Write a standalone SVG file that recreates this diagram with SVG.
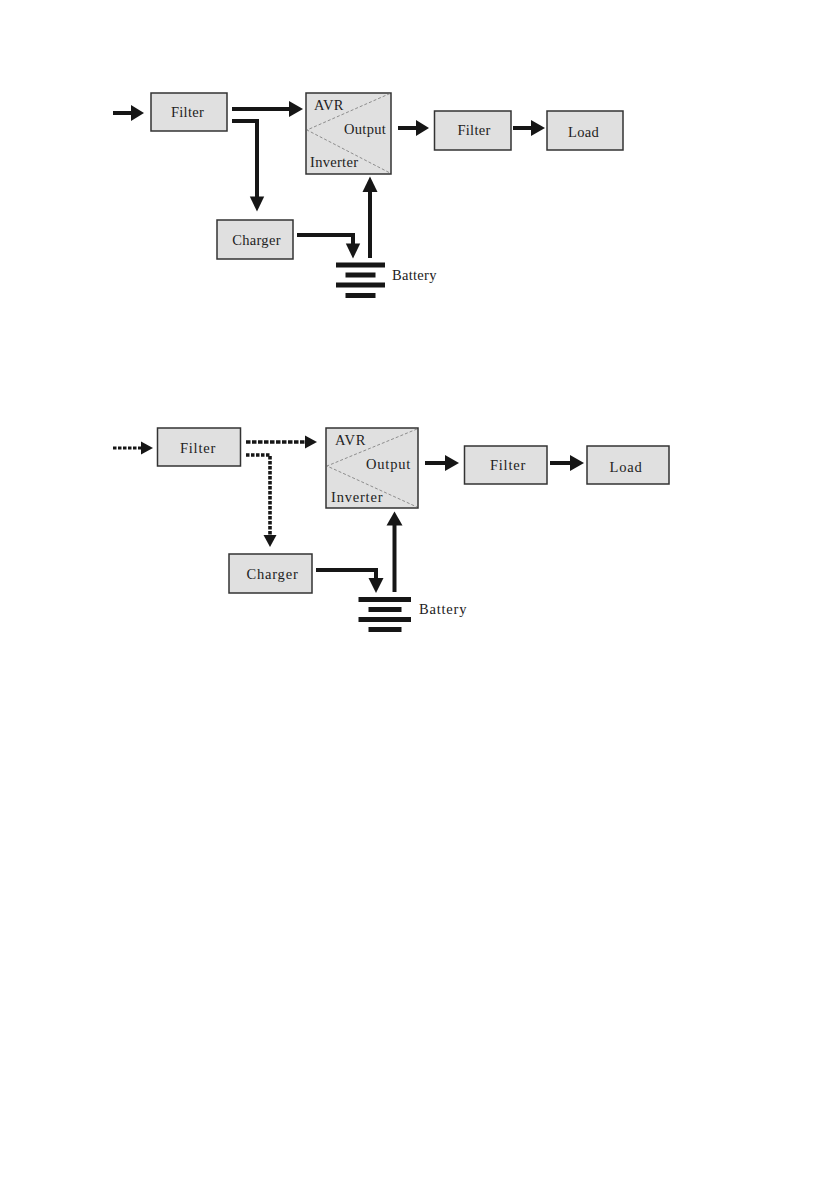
<svg xmlns="http://www.w3.org/2000/svg" width="840" height="1190" viewBox="0 0 840 1190">
<defs>
<style>
.box{fill:#e0e0e0;stroke:#333;stroke-width:1.5}
.diag{fill:none;stroke:#777;stroke-width:.8;stroke-dasharray:3 2}
.t{font-family:"Liberation Serif","Times New Roman",serif;fill:#222;font-size:14.500px;letter-spacing:.3px}
.s{letter-spacing:.8px}
.tc{text-anchor:middle}
.w{fill:none;stroke:#161616;stroke-width:4}
.d{stroke-dasharray:4.500 1.500;stroke-width:3.600}
.hd{fill:#161616}
.bar{fill:#161616}
</style>
</defs>
<rect width="840" height="1190" fill="#fff"/>
<g id="top-diagram">
<g id="connectors-top">
<path class="w" d="M113 113H134"/><path class="hd" d="M131 105L144 113L131 121Z"/>
<path class="w" d="M232 109H291"/><path class="hd" d="M289 101L303 109L289 117Z"/>
<path class="w" d="M232 121H257V198"/><path class="hd" d="M249.800 196.500H264.200L257 211.500Z"/>
<path class="w" d="M297 235H353V246"/><path class="hd" d="M345.800 243.500H360.200L353 258.500Z"/>
<path class="w" d="M370 258V190"/><path class="hd" d="M362.500 192H377.500L370 176.500Z"/>
<path class="w" d="M398 128H418"/><path class="hd" d="M416 120L429 128L416 136Z"/>
<path class="w" d="M513 128H534"/><path class="hd" d="M531 120L545 128L531 136Z"/>
</g>
<g id="filter-in-top"><rect class="box" x="151" y="93" width="76" height="38"/><text class="t tc" x="187.500" y="117">Filter</text></g>
<g id="switch-top"><rect class="box" x="306" y="93" width="85" height="81"/><path class="diag" d="M390 93.500L307 130L390 173"/><text class="t" x="314" y="110">AVR</text><text class="t" x="344" y="134">Output</text><text class="t" x="310" y="167">Inverter</text></g>
<g id="charger-top"><rect class="box" x="217" y="220" width="76" height="39"/><text class="t tc" x="256.500" y="245">Charger</text></g>
<g id="filter-out-top"><rect class="box" x="434.500" y="111" width="76.500" height="39"/><text class="t tc" x="474" y="135">Filter</text></g>
<g id="load-top"><rect class="box" x="547" y="111" width="76" height="39"/><text class="t tc" x="583.500" y="137">Load</text></g>
<g id="battery-top"><rect class="bar" x="336" y="262.500" width="49" height="5"/><rect class="bar" x="345.500" y="272.500" width="30" height="5"/><rect class="bar" x="336" y="282.500" width="49" height="5"/><rect class="bar" x="345.500" y="293" width="30" height="5"/><text class="t" x="392" y="280">Battery</text></g>
</g>
<g id="bottom-diagram">
<g id="connectors-bottom">
<path class="w d" style="stroke-width:2.800;stroke-dasharray:3.500 1.500" d="M113 448H142"/><path class="hd" d="M141 441.500L153 448L141 454.500Z"/>
<path class="w d" d="M246 442H306"/><path class="hd" d="M305 435.500L317 442L305 448.500Z"/>
<path class="w d" style="stroke-dasharray:3.500 1.500" d="M246 455H270V537"/><path class="hd" d="M263.500 535H276.500L270 547Z"/>
<path class="w" d="M316 570H376V580"/><path class="hd" d="M368.500 578H383.500L376 593Z"/>
<path class="w" d="M394.500 592V523"/><path class="hd" d="M386.500 525.500H402.500L394.500 511.500Z"/>
<path class="w" d="M425 463H447"/><path class="hd" d="M445 455L459 463L445 471Z"/>
<path class="w" d="M550 463H572"/><path class="hd" d="M570 455L584 463L570 471Z"/>
</g>
<g id="filter-in-bottom"><rect class="box" x="157.500" y="428" width="83" height="38"/><text class="t tc s" x="198" y="452.500">Filter</text></g>
<g id="switch-bottom"><rect class="box" x="326" y="428" width="92" height="80"/><path class="diag" d="M417 429L327 466L417 507"/><text class="t s" x="335" y="445">AVR</text><text class="t s" x="366" y="469">Output</text><text class="t s" x="331" y="502">Inverter</text></g>
<g id="charger-bottom"><rect class="box" x="229" y="554" width="83" height="39"/><text class="t tc s" x="272.500" y="579">Charger</text></g>
<g id="filter-out-bottom"><rect class="box" x="464.500" y="446" width="82.500" height="38"/><text class="t tc s" x="508" y="470">Filter</text></g>
<g id="load-bottom"><rect class="box" x="587" y="446" width="82" height="38"/><text class="t tc s" x="626" y="472">Load</text></g>
<g id="battery-bottom"><rect class="bar" x="358.500" y="597" width="52.500" height="5"/><rect class="bar" x="368.500" y="607" width="33" height="5"/><rect class="bar" x="358.500" y="617" width="52.500" height="5"/><rect class="bar" x="368.500" y="627" width="33" height="5"/><text class="t s" x="419" y="614">Battery</text></g>
</g>
</svg>
